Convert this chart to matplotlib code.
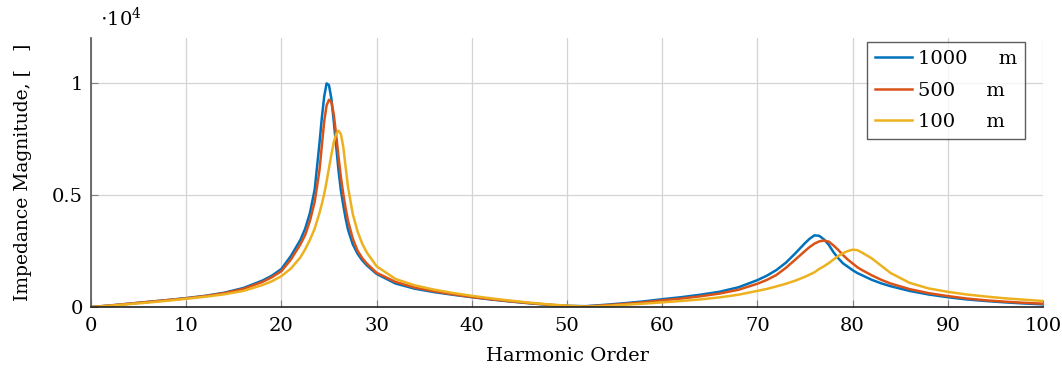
import numpy as np
import matplotlib
matplotlib.use('Agg')
import matplotlib.pyplot as plt

# harmonic order grid
harmonic = [0, 2, 4, 6, 8, 10, 12, 14, 16, 18, 19, 20, 21, 22, 22.5, 23, 23.5, 24,
            24.25, 24.5, 24.75, 25, 25.25, 25.5, 25.75, 26, 26.25, 26.5, 26.75, 27,
            27.5, 28, 28.5, 29, 30, 32, 34, 36, 38, 40, 42, 44, 46, 48, 50, 52, 54,
            56, 58, 60, 62, 64, 66, 68, 70, 71, 72, 73, 74, 75, 75.5, 76, 76.5, 77,
            77.5, 78, 78.5, 79, 79.5, 80, 80.5, 81, 82, 83, 84, 86, 88, 90, 92, 94,
            96, 98, 100]

# impedance magnitude, in units of 1e4
z_1000 = [0, 0.007, 0.015, 0.023, 0.031, 0.040, 0.050, 0.064, 0.085, 0.118, 0.140, 0.170,
          0.228, 0.300, 0.350, 0.420, 0.525, 0.730, 0.845, 0.940, 0.998, 0.990, 0.930,
          0.830, 0.720, 0.610, 0.520, 0.455, 0.395, 0.345, 0.280, 0.238, 0.208, 0.185,
          0.148, 0.105, 0.082, 0.067, 0.055, 0.044, 0.034, 0.025, 0.017, 0.010, 0.005,
          0.004, 0.010, 0.017, 0.025, 0.035, 0.044, 0.055, 0.068, 0.088, 0.120, 0.140,
          0.165, 0.198, 0.240, 0.285, 0.305, 0.320, 0.318, 0.302, 0.278, 0.245, 0.218,
          0.195, 0.180, 0.165, 0.152, 0.142, 0.122, 0.106, 0.093, 0.072, 0.056, 0.044,
          0.034, 0.027, 0.021, 0.016, 0.012]
z_500 = [0, 0.007, 0.015, 0.023, 0.031, 0.039, 0.049, 0.062, 0.081, 0.112, 0.133, 0.160,
         0.212, 0.280, 0.322, 0.385, 0.470, 0.610, 0.720, 0.830, 0.900, 0.925, 0.915,
         0.860, 0.770, 0.670, 0.580, 0.505, 0.440, 0.385, 0.305, 0.252, 0.218, 0.193,
         0.153, 0.112, 0.087, 0.071, 0.057, 0.045, 0.035, 0.026, 0.018, 0.011, 0.005,
         0.003, 0.008, 0.014, 0.021, 0.030, 0.038, 0.048, 0.060, 0.077, 0.104, 0.121,
         0.143, 0.175, 0.212, 0.250, 0.268, 0.283, 0.293, 0.297, 0.292, 0.275, 0.255,
         0.232, 0.212, 0.195, 0.178, 0.165, 0.142, 0.122, 0.105, 0.080, 0.062, 0.049,
         0.038, 0.030, 0.024, 0.019, 0.015]
z_100 = [0, 0.006, 0.013, 0.020, 0.028, 0.037, 0.046, 0.057, 0.072, 0.098, 0.115, 0.138,
         0.172, 0.222, 0.258, 0.300, 0.350, 0.420, 0.460, 0.505, 0.560, 0.620, 0.680,
         0.735, 0.772, 0.787, 0.772, 0.715, 0.625, 0.535, 0.415, 0.338, 0.282, 0.242,
         0.182, 0.125, 0.097, 0.078, 0.063, 0.050, 0.039, 0.029, 0.020, 0.012, 0.006,
         0.002, 0.005, 0.010, 0.015, 0.021, 0.027, 0.034, 0.043, 0.055, 0.072, 0.081,
         0.092, 0.104, 0.118, 0.135, 0.145, 0.155, 0.170, 0.182, 0.196, 0.212, 0.228,
         0.240, 0.250, 0.256, 0.254, 0.243, 0.218, 0.185, 0.152, 0.108, 0.083, 0.068,
         0.056, 0.047, 0.039, 0.033, 0.027]

labels = ['1000     m', '500     m', '100     m']
colors = ['#0072BD', '#D95319', '#EDB120']
x_ticks = list(range(0, 101, 10))
y_ticks = [0, 0.5, 1]
y_tick_labels = ['0', '0.5', '1']

plt.rcParams['font.family'] = ['DejaVu Serif']
plt.rcParams['mathtext.fontset'] = 'dejavuserif'

fig = plt.figure(figsize=(10.62, 3.74), dpi=100)
ax = fig.add_axes([0.0857, 0.179, 0.8963, 0.719])

for z, lab, c in zip([z_1000, z_500, z_100], labels, colors):
    ax.plot(harmonic, z, color=c, lw=1.8, label=lab, solid_joinstyle='round')

ax.set_xlim(0, 100)
ax.set_ylim(0, 1.2)
ax.set_xticks(x_ticks)
ax.set_yticks(y_ticks)
ax.set_yticklabels(y_tick_labels)
ax.grid(True, color='#d4d4d4', lw=0.9)
ax.set_axisbelow(True)
ax.tick_params(direction='in', length=5, color='#808080', labelsize=14)
ax.tick_params(axis='x', pad=7)
ax.tick_params(axis='y', pad=6)
ax.spines['top'].set_visible(False)
ax.spines['right'].set_visible(False)
ax.spines['left'].set_color('#555555')
ax.spines['bottom'].set_color('#222222')
for s in ('left', 'bottom'):
    ax.spines[s].set_linewidth(1.2)

ax.set_xlabel('Harmonic Order', fontsize=14, labelpad=9)
ax.set_ylabel('Impedance Magnitude, [   ]', fontsize=13.5, labelpad=14)
fig.text(0.094, 0.93, r'$\cdot 10^4$', fontsize=14)

leg = ax.legend(loc='upper right', bbox_to_anchor=(0.981, 0.985), borderaxespad=0,
                fontsize=14, frameon=True, fancybox=False, edgecolor='#333333',
                handlelength=1.9, borderpad=0.4, labelspacing=0.7,
                handletextpad=0.3)
leg.get_frame().set_linewidth(1.0)

fig.savefig('out.png', dpi=100)
